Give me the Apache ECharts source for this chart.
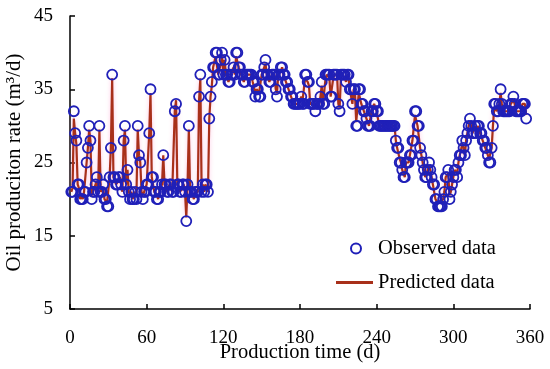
<!DOCTYPE html>
<html><head><meta charset="utf-8">
<script src="https://cdn.jsdelivr.net/npm/echarts@6/dist/echarts.min.js"></script>
<style>html,body{margin:0;padding:0;background:#fff}#c{width:550px;height:369px}</style>
</head><body><div id="c"></div>
<script>
const days = [
1,2,3,4,5,6,7,8,9,10,11,12,13,14,15,16,17,18,19,20,
21,22,23,24,25,26,27,28,29,30,31,32,33,34,35,36,37,38,39,40,
41,42,43,44,45,46,47,48,49,50,51,52,53,54,55,56,57,58,59,60,
61,62,63,64,65,66,67,68,69,70,71,72,73,74,75,76,77,78,79,80,
81,82,83,84,85,86,87,88,89,90,91,92,93,94,95,96,97,98,99,100,
101,102,103,104,105,106,107,108,109,110,111,112,113,114,115,116,117,118,119,120,
121,122,123,124,125,126,127,128,129,130,131,132,133,134,135,136,137,138,139,140,
141,142,143,144,145,146,147,148,149,150,151,152,153,154,155,156,157,158,159,160,
161,162,163,164,165,166,167,168,169,170,171,172,173,174,175,176,177,178,179,180,
181,182,183,184,185,186,187,188,189,190,191,192,193,194,195,196,197,198,199,200,
201,202,203,204,205,206,207,208,209,210,211,212,213,214,215,216,217,218,219,220,
221,222,223,224,225,226,227,228,229,230,231,232,233,234,235,236,237,238,239,240,
241,242,243,244,245,246,247,248,249,250,251,252,253,254,255,256,257,258,259,260,
261,262,263,264,265,266,267,268,269,270,271,272,273,274,275,276,277,278,279,280,
281,282,283,284,285,286,287,288,289,290,291,292,293,294,295,296,297,298,299,300,
301,302,303,304,305,306,307,308,309,310,311,312,313,314,315,316,317,318,319,320,
321,322,323,324,325,326,327,328,329,330,331,332,333,334,335,336,337,338,339,340,
341,342,343,344,345,346,347,348,349,350,351,352,353,354,355,356,357];
const observed = [
21,21,32,29,28,22,22,20,20,20, 21,21,25,27,30,28,20,21,21,22,
23,21,30,21,21,22,20,20,19,19, 23,27,37,23,23,22,22,23,23,22,
21,28,30,22,24,21,20,21,20,20, 21,20,30,26,25,21,20,21,21,22,
22,29,35,23,23,21,21,20,20,21, 21,22,26,22,22,21,21,22,22,21,
21,32,33,22,22,21,21,22,22,21, 17,22,30,21,21,20,20,21,21,21,
34,37,21,22,21,22,22,21,31,34, 36,38,38,40,40,37,37,39,40,37,
39,37,37,36,36,37,37,38,37,40, 40,38,38,37,37,36,36,37,37,37,
37,37,36,36,34,35,35,34,34,37, 37,38,39,37,37,36,36,37,37,37,
35,34,37,37,38,38,37,37,36,36, 35,35,34,34,33,33,33,33,33,33,
34,33,33,37,37,36,36,33,33,33, 33,32,33,33,33,34,36,33,33,37,
37,37,37,34,34,37,37,37,37,33, 32,37,37,37,37,36,37,37,35,35,
33,35,35,30,30,35,35,33,33,32, 32,31,30,30,30,32,32,33,33,32,
32,30,30,30,30,30,30,30,30,30, 30,30,30,30,28,27,27,25,25,24,
23,23,25,25,25,26,26,28,28,32, 32,30,30,27,26,25,24,23,23,24,
25,24,23,22,22,20,20,19,19,19, 19,20,21,23,23,24,20,21,22,23,
24,24,23,25,26,26,28,27,26,28, 29,30,31,30,29,29,30,29,30,30,
29,29,28,28,27,27,26,25,25,27, 30,33,33,32,32,33,35,33,32,32,
32,32,32,32,33,33,34,33,32,32, 32,32,32,33,33,33,31];
const predicted = [
21,21.5,31,29,27.5,22,21.5,20,20.5,20, 21,21,25,27,29.5,28,20.5,21,21,22,
22.5,21,29.5,21,21,21.5,20,20,19.5,19.5, 23,27,36.5,23,23,22,22,22.5,23,22,
21,28,29.5,22,24,21,20.5,21,20,20.5, 21,20.5,29.5,26,25,21,20.5,21,21,22,
22,29,34.5,23,23,21,21,20.5,20,21, 21,22,26,22,22,21,21,22,21.5,21,
21,32,33.5,22,22,21,21,21.5,22,21, 17.5,22,29.5,21,21,20.5,20,21,21,21,
33.5,36.5,21.5,22,21,22,21.5,21,31,34, 35.5,38,38,39.5,39.5,37,37,38.5,39.5,37,
39,37,37,36,36.5,37,37,38,37,39.5, 39.5,38,38,37,37,36,36.5,37,37,37,
37,37,36,36,34.5,35,35,34.5,34.5,37, 37,38,38.5,37,37,36,36,37,37,37,
35,34.5,37,37,37.5,38,37,37,36,36, 35,35,34,34,33,33,33,33,33,33.5,
34,33.5,33.5,36.5,36.5,36,35.5,33,33,33, 33,32.5,33,33,33,34,35.5,33,33,36.5,
37,37,36.5,34,34,36.5,37,37,37,33, 32.5,36.5,37,37,36.5,36,37,36.5,35,35,
33,35,34.5,30.5,30.5,34.5,34.5,33,33,32, 32,31,30.5,30,30,32,32,33,33,32,
32,30,30,30,30,30,30,30,30,30, 30,30,30,30,28,27,27,25.5,25,24,
23.5,23,25,25,25,26,26,28,28,31.5, 31.5,30,30,27,26,25,24,23,23,24,
24.5,24,23,22,22,20,20,19.5,19.5,19.5, 19.5,20,21,23,23,23.5,20.5,21,22,23,
24,24,23.5,25,26,26,27.5,27,26,28, 29,30,30.5,30,29,29,30,29,30,30,
29,29,28,28,27,27,26,25.5,25.5,27, 30,32.5,32.5,32,32,33,34.5,33,32,32,
32,32,32,32,33,33,33.5,33,32,32, 32,32,32,33,33,33,31.5];
const xTicks = [0,60,120,180,240,300,360];
const yTicks = [5,15,25,35,45];

const FONT = 'Liberation Serif';
const chart = echarts.init(document.getElementById('c'));
const obsData = days.map((d,i)=>[d, observed[i]]);
const preData = days.map((d,i)=>[d, predicted[i]]);
chart.setOption({
  animation:false,
  backgroundColor:'#fff',
  grid:{left:70,right:20,top:16,bottom:60,outerBoundsMode:'none',containLabel:false},
  legend:[
    {data:['Observed data'],left:350,top:238,padding:0,itemWidth:10,itemHeight:10,
     textStyle:{fontFamily:FONT,fontSize:20.5,color:'#000',padding:[0,0,0,12]}},
    {data:[{name:'Predicted data',icon:'rect'}],left:336,top:272,padding:0,itemWidth:37,itemHeight:3,
     textStyle:{fontFamily:FONT,fontSize:20.5,color:'#000'}}
  ],
  xAxis:{type:'value',min:xTicks[0],max:xTicks[xTicks.length-1],interval:xTicks[1]-xTicks[0],
    name:'Production time (d)',nameLocation:'middle',nameGap:33,nameMoveOverlap:false,
    nameTextStyle:{fontFamily:FONT,fontSize:20.5,color:'#000'},
    axisLine:{lineStyle:{color:'#000',width:1.5}},
    axisTick:{inside:true,length:5,lineStyle:{color:'#000',width:1.5}},
    axisLabel:{fontFamily:FONT,fontSize:19,color:'#000',margin:20},
    splitLine:{show:false}},
  yAxis:{type:'value',min:yTicks[0],max:yTicks[yTicks.length-1],interval:yTicks[1]-yTicks[0],
    name:'Oil produciton rate (m³/d)',nameLocation:'middle',nameGap:45,nameMoveOverlap:false,
    nameTextStyle:{fontFamily:FONT,fontSize:21,color:'#000'},
    axisLine:{show:true,lineStyle:{color:'#000',width:1.5}},
    axisTick:{show:true,inside:true,length:5,lineStyle:{color:'#000',width:1.5}},
    axisLabel:{fontFamily:FONT,fontSize:19,color:'#000',margin:17},
    splitLine:{show:false}},
  series:[
    {name:'Predicted data',type:'line',data:preData,symbol:'none',z:2,
     lineStyle:{color:'#a8301a',width:2.2,shadowColor:'rgba(255,140,200,0.5)',shadowBlur:4},
     itemStyle:{color:'#a8301a'}},
    {name:'Observed data',type:'scatter',data:obsData,symbol:'circle',symbolSize:10,z:3,
     itemStyle:{color:'rgba(0,0,0,0)',borderColor:'#2020b8',borderWidth:1.8,opacity:1}}
  ]
});
</script></body></html>
